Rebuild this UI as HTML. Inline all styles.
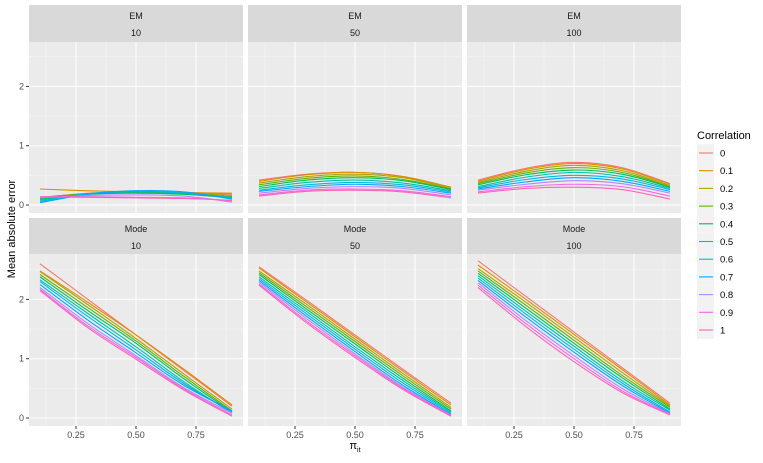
<!DOCTYPE html>
<html><head><meta charset="utf-8"><style>
body{margin:0;background:#fff;font-family:"Liberation Sans",sans-serif}
svg text{font-family:"Liberation Sans",sans-serif}
</style></head><body>
<svg id="chart" width="763" height="458" xmlns="http://www.w3.org/2000/svg"></svg>
<script>
const correlations=["0","0.1","0.2","0.3","0.4","0.5","0.6","0.7","0.8","0.9","1"];
const colors=["#F8766D","#DB8E00","#AEA200","#64B200","#00BD5C","#00C1A7","#00BADE","#00A6FF","#B385FF","#EF67EB","#FF63B6"];
const xValues=[0.1,0.3,0.5,0.7,0.9];
const xTicks=[0.25,0.5,0.75];
const xTickLabels=["0.25","0.50","0.75"];
const yTicks=[0,1,2];
const methods=["EM","Mode"];
const sizes=["10","50","100"];
const em10=[[.12,.20,.22,.21,.18],[.27,.24,.22,.21,.20],[.13,.19,.21,.20,.16],[.12,.19,.21,.19,.14],[.10,.18,.20,.18,.12],[.08,.19,.22,.20,.13],[.06,.19,.24,.20,.12],[.04,.18,.24,.22,.10],[.12,.16,.17,.15,.05],[.14,.14,.13,.12,.07],[.13,.13,.12,.11,.08]];
const em50=[[.42,.52,.55,.48,.30],[.40,.51,.55,.48,.30],[.37,.48,.52,.46,.28],[.34,.45,.49,.43,.27],[.31,.42,.46,.41,.26],[.28,.38,.42,.37,.24],[.25,.34,.38,.34,.22],[.23,.31,.35,.31,.20],[.20,.28,.31,.28,.17],[.17,.25,.27,.24,.14],[.15,.23,.25,.22,.12]];
const em100=[[.42,.62,.72,.63,.36],[.40,.60,.70,.61,.35],[.38,.57,.67,.58,.33],[.36,.54,.63,.55,.31],[.34,.51,.59,.52,.30],[.31,.47,.55,.48,.28],[.29,.43,.50,.44,.26],[.27,.39,.46,.40,.23],[.25,.35,.41,.36,.20],[.22,.31,.35,.31,.15],[.20,.28,.30,.26,.10]];
const mode10=[[2.60,2.00,1.40,0.80,0.20],[2.48,1.95,1.40,0.82,0.22],[2.47,1.91,1.34,0.74,0.15],[2.42,1.86,1.30,0.70,0.12],[2.38,1.81,1.26,0.66,0.10],[2.33,1.76,1.20,0.61,0.08],[2.30,1.71,1.15,0.58,0.10],[2.25,1.65,1.10,0.55,0.12],[2.20,1.59,1.05,0.51,0.08],[2.17,1.55,1.02,0.49,0.05],[2.15,1.52,0.99,0.47,0.03]];
const mode50=[[2.55,1.98,1.40,0.82,0.25],[2.53,1.95,1.37,0.79,0.22],[2.48,1.91,1.33,0.75,0.18],[2.45,1.87,1.29,0.71,0.15],[2.42,1.83,1.25,0.67,0.12],[2.38,1.79,1.20,0.63,0.10],[2.35,1.75,1.16,0.59,0.08],[2.32,1.71,1.12,0.55,0.06],[2.29,1.67,1.08,0.52,0.05],[2.26,1.63,1.05,0.50,0.04],[2.24,1.60,1.02,0.48,0.03]];
const mode100=[[2.65,2.05,1.45,0.85,0.25],[2.58,2.00,1.41,0.82,0.22],[2.52,1.95,1.36,0.77,0.20],[2.48,1.90,1.31,0.72,0.18],[2.44,1.85,1.26,0.68,0.15],[2.40,1.80,1.21,0.63,0.13],[2.36,1.75,1.16,0.59,0.10],[2.32,1.70,1.11,0.55,0.08],[2.28,1.64,1.05,0.50,0.07],[2.24,1.59,1.00,0.46,0.06],[2.20,1.54,0.95,0.43,0.05]];
const panelData=[[em10,em50,em100],[mode10,mode50,mode100]];

const svg=document.getElementById('chart');
const NS="http://www.w3.org/2000/svg";
function mk(tag,attrs,parent){const e=document.createElementNS(NS,tag);for(const k in attrs)e.setAttribute(k,attrs[k]);(parent||svg).appendChild(e);return e;}
const colX=[29,248,467],panelW=214;
const rows=[{stripTop:5,top:42,bottom:213,zero:205},{stripTop:218,top:254,bottom:426,zero:418}];
const unit=59.3;
function pathFor(pts){let d=`M${pts[0][0]},${pts[0][1]}`;for(let i=0;i<pts.length-1;i++){const p0=pts[Math.max(i-1,0)],p1=pts[i],p2=pts[i+1],p3=pts[Math.min(i+2,pts.length-1)];const c1=[p1[0]+(p2[0]-p0[0])/6,p1[1]+(p2[1]-p0[1])/6],c2=[p2[0]-(p3[0]-p1[0])/6,p2[1]-(p3[1]-p1[1])/6];d+=` C${c1[0]},${c1[1]} ${c2[0]},${c2[1]} ${p2[0]},${p2[1]}`;}return d;}
for(let r=0;r<2;r++){for(let c=0;c<3;c++){
 const R=rows[r],x0=colX[c];
 const xs=v=>x0+11+(v-0.1)*240;
 const ys=v=>R.zero-v*unit;
 const g=mk('g',{});
 
 
 const strip=mk('rect',{x:x0,y:R.stripTop,width:panelW,height:R.top-R.stripTop,fill:'#D9D9D9'},g);
 
 const t1=mk('text',{x:x0+panelW/2,y:R.stripTop+14,'font-size':9,fill:'#1A1A1A','text-anchor':'middle'},g);t1.textContent=methods[r];
 
 const t2=mk('text',{x:x0+panelW/2,y:R.stripTop+31,'font-size':9,fill:'#1A1A1A','text-anchor':'middle'},g);t2.textContent=sizes[c];
 
 mk('rect',{x:x0,y:R.top,width:panelW,height:R.bottom-R.top,fill:'#EBEBEB'},g);
 [0.5,1.5,2.5].forEach(v=>{const y=ys(v);if(y>R.top)mk('line',{x1:x0,x2:x0+panelW,y1:y,y2:y,stroke:'#F5F5F5','stroke-width':0.5},g);});
 [0.125,0.375,0.625,0.875].forEach(v=>mk('line',{x1:xs(v),x2:xs(v),y1:R.top,y2:R.bottom,stroke:'#F5F5F5','stroke-width':0.5},g));
 yTicks.forEach(v=>mk('line',{x1:x0,x2:x0+panelW,y1:ys(v),y2:ys(v),stroke:'#fff','stroke-width':1},g));
 xTicks.forEach(v=>mk('line',{x1:xs(v),x2:xs(v),y1:R.top,y2:R.bottom,stroke:'#fff','stroke-width':1},g));
 panelData[r][c].forEach((series,i)=>{
  const p=mk('path',{d:pathFor(series.map((v,j)=>[xs(xValues[j]),ys(v)])),fill:'none',stroke:colors[i],'stroke-width':1.1},g);
  
 });
 if(c===0){yTicks.forEach(v=>{mk('line',{x1:x0-3,x2:x0,y1:ys(v),y2:ys(v),stroke:'#333'},g);
  const t=mk('text',{x:x0-5,y:ys(v)+3,'font-size':9,fill:'#4D4D4D','text-anchor':'end'},g);t.textContent=String(v);
  });}
 if(r===1){xTicks.forEach((v,i)=>{mk('line',{x1:xs(v),x2:xs(v),y1:R.bottom,y2:R.bottom+3,stroke:'#333'},g);
  const t=mk('text',{x:xs(v),y:R.bottom+12,'font-size':9,fill:'#4D4D4D','text-anchor':'middle'},g);t.textContent=xTickLabels[i];
  });}
}}
const yt=mk('text',{x:0,y:0,'font-size':11,fill:'#000','text-anchor':'middle',transform:'translate(15,229) rotate(-90)'});yt.textContent='Mean absolute error';

const xt=mk('text',{x:355,y:449,'font-size':11,fill:'#000','text-anchor':'middle'});xt.innerHTML='π<tspan font-size="7" dy="3">it</tspan>';

const lg=mk('g',{});
const lt=mk('text',{x:697,y:139,'font-size':11,fill:'#000'},lg);lt.textContent='Correlation';

correlations.forEach((cv,i)=>{const y=153+i*17.7;
 const e=mk('g',{},lg);
 mk('rect',{x:697,y:y-8.8,width:17,height:17.7,fill:'#F2F2F2'},e);
 mk('line',{x1:699,x2:713,y1:y,y2:y,stroke:colors[i],'stroke-width':1.1},e);
 const t=mk('text',{x:720,y:y+3.5,'font-size':9.5,fill:'#000'},e);t.textContent=cv;});
</script>
</body></html>
